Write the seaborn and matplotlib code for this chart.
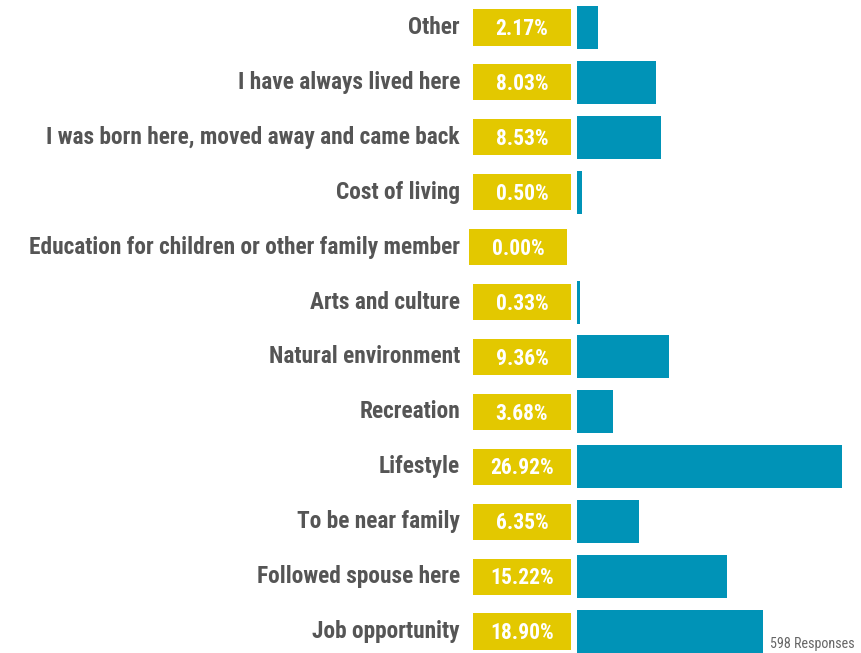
import matplotlib
matplotlib.use("Agg")
import matplotlib.pyplot as plt
import seaborn as sns
import pandas as pd
from matplotlib import font_manager

categories = [
    "Other",
    "I have always lived here",
    "I was born here, moved away and came back",
    "Cost of living",
    "Education for children or other family member",
    "Arts and culture",
    "Natural environment",
    "Recreation",
    "Lifestyle",
    "To be near family",
    "Followed spouse here",
    "Job opportunity",
]
percents = [2.17, 8.03, 8.53, 0.50, 0.00, 0.33, 9.36, 3.68, 26.92, 6.35, 15.22, 18.90]
responses = 598

BLUE = "#0093b7"
YELLOW = "#e3c800"
GREY = "#555555"

names = sorted({f.name for f in font_manager.fontManager.ttflist})
narrow = [n for n in ["Roboto Condensed", "Liberation Sans Narrow", "Open Sans Condensed"] if n in names]
FONT = narrow + ["DejaVu Sans"]

df = pd.DataFrame({"reason": categories, "pct": percents})

sns.set_theme(style="white")
plt.rcParams["font.family"] = FONT

fig = plt.figure(figsize=(8.62, 6.53), dpi=100)
# axes spans from x=465px to the right edge; bars start at x=577px
px_per_pct = 9.84
left_px, zero_px = 465, 577
ax = fig.add_axes([left_px / 862, 0, 1 - left_px / 862, 1])

sns.barplot(data=df, x="pct", y="reason", color=BLUE, width=0.783,
            saturation=1, linewidth=0, ax=ax, orient="h")

# yellow badges with the value
badge_l = (473 - zero_px) / px_per_pct
badge_w = (571 - 473) / px_per_pct
for i, v in enumerate(percents):
    shift = -4 / px_per_pct if v == 0 else 0
    ax.barh(i, badge_w, left=badge_l + shift, height=0.656, color=YELLOW, linewidth=0)
    ax.text(badge_l + shift + badge_w / 2, i + 0.03, f"{v:.2f}%", color="white",
            ha="center", va="center", fontsize=15.5, fontweight="bold")

ax.set_xlim((left_px - zero_px) / px_per_pct, (862 - zero_px) / px_per_pct)
ax.set_ylim(11 + 21.5 / 54.9, -27.5 / 54.9)
ax.set_xlabel("")
ax.set_ylabel("")
ax.set_xticks([])
ax.tick_params(axis="y", length=0, pad=3.6, labelsize=16.8, labelcolor=GREY)
for lab in ax.get_yticklabels():
    lab.set_fontweight("bold")
    lab.set_va("center")
sns.despine(ax=ax, left=True, bottom=True)

fig.text(770 / 862, 2 / 653, f"{responses} Responses", color="#666666",
         fontsize=10.2, ha="left", va="bottom")

fig.savefig("out.png", dpi=100)
